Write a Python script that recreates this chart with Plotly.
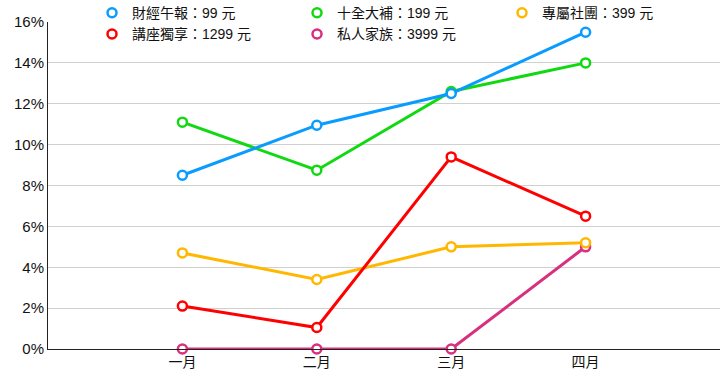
import plotly.graph_objects as go

months = ["一月", "二月", "三月", "四月"]
series_names = ["財經午報：99 元", "十全大補：199 元", "專屬社團：399 元", "講座獨享：1299 元", "私人家族：3999 元"]
caijing = [8.5, 10.95, 12.5, 15.5]
shiquan = [11.1, 8.75, 12.6, 14.0]
zhuanshu = [4.7, 3.4, 5.0, 5.2]
jiangzuo = [2.1, 1.05, 9.4, 6.5]
siren = [0, 0, 0, 5.0]
colors = ["#0a9bff", "#11d911", "#ffb700", "#ff0000", "#d8307f"]
all_values = [caijing, shiquan, zhuanshu, jiangzuo, siren]
y_ticks = [0, 2, 4, 6, 8, 10, 12, 14, 16]

fig = go.Figure()
order = [4, 2, 3, 1, 0]
for i in order:
    fig.add_trace(go.Scatter(
        x=months, y=all_values[i], mode="lines+markers", name=series_names[i],
        line=dict(color=colors[i], width=3),
        marker=dict(symbol="circle", size=9, color="white", line=dict(color=colors[i], width=2.5)),
        showlegend=False, cliponaxis=False,
    ))
for i in range(5):
    fig.add_trace(go.Scatter(
        x=[None], y=[None], mode="markers", name=series_names[i],
        marker=dict(symbol="circle", size=9, color="white", line=dict(color=colors[i], width=2.5)),
        showlegend=True,
    ))

fig.update_layout(
    width=720, height=380,
    margin=dict(l=48, r=0, t=22, b=31, autoexpand=False),
    paper_bgcolor="white", plot_bgcolor="white",
    font=dict(family="Liberation Sans, Noto Sans CJK TC, sans-serif", size=14, color="#111111"),
    legend=dict(orientation="h", x=0.0655, xanchor="left", yref="paper", y=1.076, yanchor="top",
                entrywidth=160, entrywidthmode="pixels", bgcolor="rgba(0,0,0,0)",
                font=dict(size=14, color="#111111"), tracegroupgap=0, itemwidth=30),
    xaxis=dict(range=[-1, 4], showgrid=False, showline=True, linecolor="#222222", linewidth=1,
               ticks="", tickfont=dict(size=14), zeroline=False),
    yaxis=dict(range=[0, 16], tickvals=y_ticks, ticktext=[f"{v}%" for v in y_ticks],
               showgrid=True, gridcolor="#d0d0d0", gridwidth=1, showline=True, linecolor="#222222",
               linewidth=1, ticks="", tickfont=dict(size=15), zeroline=False),
)
fig.write_html("out.html", config={"displayModeBar": False},
               post_script="document.body.style.margin='0';document.body.style.overflow='hidden';")
